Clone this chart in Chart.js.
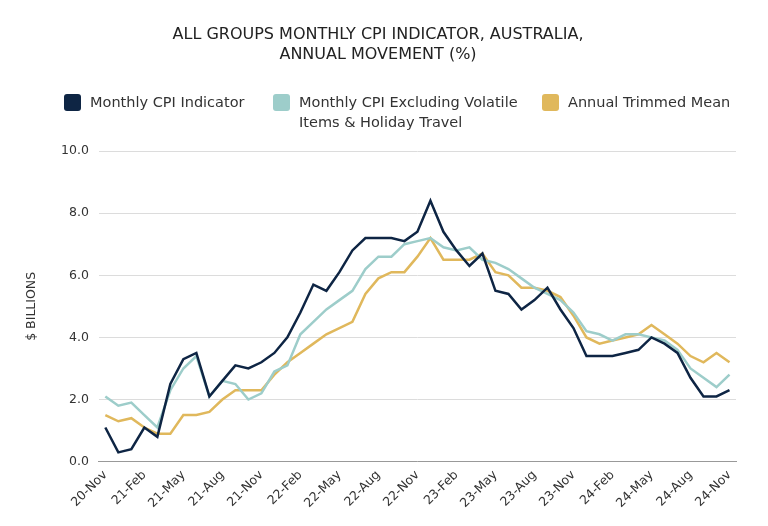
<!DOCTYPE html>
<html>
<head>
<meta charset="utf-8">
<script src="https://cdn.jsdelivr.net/npm/chart.js@4.4.1/dist/chart.umd.min.js"></script>
<style>
  html, body { margin: 0; padding: 0; background: #fff; }
  #wrap { width: 768px; height: 526px; }
</style>
</head>
<body>
<div id="wrap"><canvas id="cpiChart"></canvas></div>
<script>
var months = ['20-Nov', '20-Dec',
  '21-Jan', '21-Feb', '21-Mar', '21-Apr', '21-May', '21-Jun', '21-Jul', '21-Aug', '21-Sep', '21-Oct', '21-Nov', '21-Dec',
  '22-Jan', '22-Feb', '22-Mar', '22-Apr', '22-May', '22-Jun', '22-Jul', '22-Aug', '22-Sep', '22-Oct', '22-Nov', '22-Dec',
  '23-Jan', '23-Feb', '23-Mar', '23-Apr', '23-May', '23-Jun', '23-Jul', '23-Aug', '23-Sep', '23-Oct', '23-Nov', '23-Dec',
  '24-Jan', '24-Feb', '24-Mar', '24-Apr', '24-May', '24-Jun', '24-Jul', '24-Aug', '24-Sep', '24-Oct', '24-Nov'];

var monthlyCpi = [1.1, 0.3,
  0.4, 1.1, 0.8, 2.5, 3.3, 3.5, 2.1, 2.6, 3.1, 3.0, 3.2, 3.5,
  4.0, 4.8, 5.7, 5.5, 6.1, 6.8, 7.2, 7.2, 7.2, 7.1, 7.4, 8.4,
  7.4, 6.8, 6.3, 6.7, 5.5, 5.4, 4.9, 5.2, 5.6, 4.9, 4.3, 3.4,
  3.4, 3.4, 3.5, 3.6, 4.0, 3.8, 3.5, 2.7, 2.1, 2.1, 2.3];

var cpiExVolatile = [2.1, 1.8,
  1.9, 1.5, 1.1, 2.3, 3.0, 3.4, 2.1, 2.6, 2.5, 2.0, 2.2, 2.9,
  3.1, 4.1, 4.5, 4.9, 5.2, 5.5, 6.2, 6.6, 6.6, 7.0, 7.1, 7.2,
  6.9, 6.8, 6.9, 6.5, 6.4, 6.2, 5.9, 5.6, 5.4, 5.2, 4.8, 4.2,
  4.1, 3.9, 4.1, 4.1, 4.0, 3.9, 3.6, 3.0, 2.7, 2.4, 2.8];

var trimmedMean = [1.5, 1.3,
  1.4, 1.1, 0.9, 0.9, 1.5, 1.5, 1.6, 2.0, 2.3, 2.3, 2.3, 2.8,
  3.2, 3.5, 3.8, 4.1, 4.3, 4.5, 5.4, 5.9, 6.1, 6.1, 6.6, 7.2,
  6.5, 6.5, 6.5, 6.7, 6.1, 6.0, 5.6, 5.6, 5.5, 5.3, 4.7, 4.0,
  3.8, 3.9, 4.0, 4.1, 4.4, 4.1, 3.8, 3.4, 3.2, 3.5, 3.2];

var seriesNames = ['Monthly CPI Indicator', 'Monthly CPI Excluding Volatile\nItems & Holiday Travel', 'Annual Trimmed Mean'];
var seriesColors = ['#0e2544', '#9dcdca', '#e0b85c'];
var yTicks = [0, 2, 4, 6, 8, 10];

var font = "'DejaVu Sans', sans-serif";

// legend drawn by hand so the two-line label sits like the original
var legendBoxX = [64, 273, 542];

var cpiLegend = {
  id: 'cpiLegend',
  afterDraw: function (chart) {
    var c = chart.ctx;
    c.save();
    c.font = '14.5px ' + font;
    c.textBaseline = 'middle';
    c.textAlign = 'left';
    chart.data.datasets.forEach(function (ds, i) {
      var x = legendBoxX[i];
      c.fillStyle = ds.borderColor;
      c.beginPath();
      if (c.roundRect) c.roundRect(x, 94, 17, 17, 3); else c.rect(x, 94, 17, 17);
      c.fill();
      c.fillStyle = '#333';
      ds.label.split('\n').forEach(function (line, j) {
        c.fillText(line, x + 26, 103 + j * 20);
      });
    });
    c.restore();
  }
};

function makeSet(i, values) {
  return {
    label: seriesNames[i],
    data: values,
    borderColor: seriesColors[i],
    backgroundColor: seriesColors[i],
    borderWidth: 2.5,
    pointRadius: 0,
    tension: 0
  };
}

var ctx = document.getElementById('cpiChart').getContext('2d');

var cpiChart = new Chart(ctx, {
  type: 'line',
  data: {
    labels: months,
    datasets: [makeSet(0, monthlyCpi), makeSet(1, cpiExVolatile), makeSet(2, trimmedMean)]
  },
  plugins: [cpiLegend],
  options: {
    responsive: true,
    maintainAspectRatio: false,
    animation: false,
    layout: { padding: { left: 20, right: 32, top: 0, bottom: 9 } },
    plugins: {
      title: {
        display: true,
        text: ['ALL GROUPS MONTHLY CPI INDICATOR, AUSTRALIA,', 'ANNUAL MOVEMENT (%)'],
        color: '#222',
        font: { family: font, size: 16, weight: 'normal', lineHeight: 1.25 },
        padding: { top: 25, bottom: 86 }
      },
      legend: { display: false },
      tooltip: { enabled: false }
    },
    scales: {
      x: {
        offset: true,
        grid: { display: false, drawTicks: false },
        border: { display: true, color: '#999', width: 1 },
        ticks: {
          autoSkip: false,
          maxRotation: 45,
          minRotation: 45,
          padding: 6,
          color: '#333',
          font: { family: font, size: 12.5 },
          callback: function (val, idx) {
            return idx % 3 === 0 ? months[idx] : '';
          }
        }
      },
      y: {
        min: 0,
        max: 10,
        afterBuildTicks: function (scale) {
          scale.ticks = yTicks.map(function (v) { return { value: v }; });
        },
        grid: { color: '#dcdcdc', lineWidth: 1, drawTicks: false },
        border: { display: false },
        ticks: {
          padding: 10,
          color: '#333',
          font: { family: font, size: 12.5 },
          callback: function (v) { return v.toFixed(1); }
        },
        title: {
          display: true,
          text: '$ BILLIONS',
          color: '#333',
          font: { family: font, size: 12.5 },
          padding: { bottom: 12 }
        }
      }
    }
  }
});
</script>
</body>
</html>
